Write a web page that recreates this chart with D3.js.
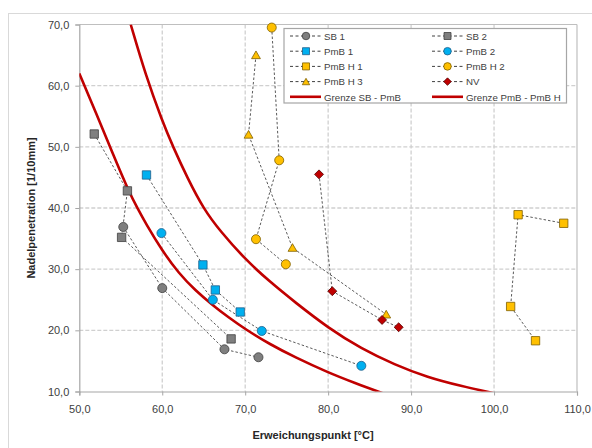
<!DOCTYPE html>
<html><head><meta charset="utf-8">
<script src="https://cdn.jsdelivr.net/npm/d3@7"></script>
<style>
body{margin:0;background:#fff;}
svg{display:block;font-family:"Liberation Sans",Arial,sans-serif;}
</style></head>
<body>
<svg id="chart" width="592" height="448"></svg>
<script>
// ---- data ----
const xTicks = [50, 60, 70, 80, 90, 100, 110];
const yTicks = [10, 20, 30, 40, 50, 60, 70];

const sb1X = [55.3, 60.0, 67.5, 71.6];   const sb1Y = [36.9, 26.9, 16.9, 15.6];
const sb2X = [51.8, 55.8, 55.1, 68.3];   const sb2Y = [52.1, 42.8, 35.2, 18.6];
const pmb1X = [58.1, 64.9, 66.4, 69.4];  const pmb1Y = [45.4, 30.7, 26.6, 23.0];
const pmb2X = [59.9, 66.1, 72.0, 84.0];  const pmb2Y = [35.9, 25.0, 19.9, 14.2];
const pmbh1X = [108.4, 102.9, 102.0, 105.0]; const pmbh1Y = [37.5, 38.9, 23.9, 18.3];
const pmbh2X = [73.2, 74.1, 71.3, 74.9]; const pmbh2Y = [69.5, 47.8, 34.9, 30.8];
const pmbh3X = [71.3, 70.4, 75.7, 87.0]; const pmbh3Y = [65.0, 52.0, 33.5, 22.6];
const nvX = [78.9, 80.5, 86.5, 88.5];    const nvY = [45.5, 26.4, 21.7, 20.5];

const grenze1X = [50, 52, 54, 56, 57, 58, 60, 62, 64, 66, 68, 70, 73, 76, 80, 83, 87];
const grenze1Y = [62, 55.6, 49.0, 42.6, 40.0, 37.5, 33.0, 29.3, 26.5, 24.2, 22.1, 20.2, 17.7, 15.6, 13.1, 11.5, 9.5];
const grenze2X = [56.2, 58, 60, 61.3, 63, 65, 67, 70, 73, 76, 80, 84, 88, 92, 96, 100];
const grenze2Y = [70, 61.7, 54.2, 50.0, 45.0, 39.8, 36.2, 31.6, 27.9, 24.6, 20.4, 17.0, 14.4, 12.3, 10.9, 9.7];

const seriesNames = ["SB 1","SB 2","PmB 1","PmB 2","PmB H 1","PmB H 2","PmB H 3","NV"];
const curveNames = ["Grenze SB - PmB","Grenze PmB - PmB H"];

// ---- styles ----
const GRAY = {fill:"#7f7f7f", stroke:"#404040"};
const BLUE = {fill:"#00b0f0", stroke:"#1f5f8a"};
const YEL  = {fill:"#ffc000", stroke:"#7f6000"};
const RED  = {fill:"#c00000", stroke:"#5a0000"};

const series = [
  {name:seriesNames[0], xs:sb1X, ys:sb1Y, shape:"circle", c:GRAY},
  {name:seriesNames[1], xs:sb2X, ys:sb2Y, shape:"square", c:GRAY},
  {name:seriesNames[2], xs:pmb1X, ys:pmb1Y, shape:"square", c:BLUE},
  {name:seriesNames[3], xs:pmb2X, ys:pmb2Y, shape:"circle", c:BLUE},
  {name:seriesNames[4], xs:pmbh1X, ys:pmbh1Y, shape:"square", c:YEL},
  {name:seriesNames[5], xs:pmbh2X, ys:pmbh2Y, shape:"circle", c:YEL},
  {name:seriesNames[6], xs:pmbh3X, ys:pmbh3Y, shape:"triangle", c:YEL},
  {name:seriesNames[7], xs:nvX, ys:nvY, shape:"diamond", c:RED}
];

const svg = d3.select("#chart");
const L = 79.3, R = 577, T = 24.5, B = 391.5;
const x = d3.scaleLinear().domain([50,110]).range([L,R]);
const y = d3.scaleLinear().domain([10,70]).range([B,T]);
const fmt = v => d3.format(".1f")(v).replace(".", ",");

// outer chart border
svg.append("rect").attr("x",8.5).attr("y",13.5).attr("width",620).attr("height",460)
  .attr("fill","none").attr("stroke","#d9d9d9").attr("stroke-width",1);

// gridlines
const grid = svg.append("g");
grid.selectAll(".vg").data(xTicks.slice(1,-1)).join("line")
  .attr("x1",d=>x(d)).attr("x2",d=>x(d)).attr("y1",T).attr("y2",B)
  .attr("stroke","#d0d0d0").attr("stroke-width",1.3).attr("stroke-dasharray","4,2");
grid.selectAll(".hg").data(yTicks.slice(1,-1)).join("line")
  .attr("x1",L).attr("x2",R).attr("y1",d=>y(d)).attr("y2",d=>y(d))
  .attr("stroke","#d0d0d0").attr("stroke-width",1.3).attr("stroke-dasharray","4,2");
// plot border top/right
svg.append("line").attr("x1",L).attr("x2",R).attr("y1",T).attr("y2",T).attr("stroke","#bfbfbf").attr("stroke-width",1.2);
svg.append("line").attr("x1",R).attr("x2",R).attr("y1",T).attr("y2",B).attr("stroke","#bfbfbf").attr("stroke-width",1.2);

// axes
const xAxis = d3.axisBottom(x).tickValues(xTicks).tickFormat(fmt).tickSize(4).tickPadding(10);
const yAxis = d3.axisLeft(y).tickValues(yTicks).tickFormat(fmt).tickSize(4).tickPadding(6);
const gx = svg.append("g").attr("transform",`translate(0,${B})`).call(xAxis);
const gy = svg.append("g").attr("transform",`translate(${L},0)`).call(yAxis);
[gx,gy].forEach(g=>{
  g.select(".domain").attr("stroke","#a6a6a6").attr("stroke-width",1.2);
  g.selectAll(".tick line").attr("stroke","#a6a6a6");
  g.selectAll("text").attr("font-size",11).attr("fill","#404040").attr("font-family","'Liberation Sans',Arial,sans-serif");
});

// axis titles
svg.append("text").attr("x",313).attr("y",439).attr("text-anchor","middle")
  .attr("font-size",11).attr("font-weight","bold").attr("fill","#262626").text("Erweichungspunkt [°C]");
svg.append("text").attr("transform","translate(35,208) rotate(-90)").attr("text-anchor","middle")
  .attr("font-size",11).attr("font-weight","bold").attr("fill","#262626").text("Nadelpenetration [1/10mm]");

// clip
svg.append("clipPath").attr("id","clip").append("rect").attr("x",L).attr("y",T).attr("width",R-L).attr("height",B-T);
const plot = svg.append("g").attr("clip-path","url(#clip)");

// boundary curves
const curveLine = d3.line().x(d=>x(d[0])).y(d=>y(d[1])).curve(d3.curveBasis);
[[grenze1X,grenze1Y],[grenze2X,grenze2Y]].forEach(([xs,ys])=>{
  plot.append("path").attr("d",curveLine(xs.map((v,i)=>[v,ys[i]])))
    .attr("fill","none").attr("stroke","#c00000").attr("stroke-width",2.6);
});

// series dashed lines
const segLine = d3.line().x(d=>x(d[0])).y(d=>y(d[1]));
series.forEach(s=>{
  plot.append("path").attr("d",segLine(s.xs.map((v,i)=>[v,s.ys[i]])))
    .attr("fill","none").attr("stroke","#595959").attr("stroke-width",1).attr("stroke-dasharray","2.5,2");
});

function marker(g, shape, c, cx, cy, scale){
  let sym, size, rot = 0;
  if(shape==="circle"){sym=d3.symbolCircle; size=64;}
  else if(shape==="square"){sym=d3.symbolSquare; size=70;}
  else if(shape==="triangle"){sym=d3.symbolTriangle; size=34;}
  else {sym=d3.symbolSquare; size=40; rot=45;}
  g.append("path").attr("d",d3.symbol().type(sym).size(size*scale)())
    .attr("transform",`translate(${cx},${cy}) rotate(${rot})`)
    .attr("fill",c.fill).attr("stroke",c.stroke).attr("stroke-width",0.8);
}
series.forEach(s=>{
  s.xs.forEach((v,i)=>marker(svg, s.shape, s.c, x(v), y(s.ys[i]) + (s.shape==="triangle"?1:0), 1));
});

// legend
const lg = svg.append("g");
lg.append("rect").attr("x",284).attr("y",28.5).attr("width",282.5).attr("height",74.5)
  .attr("fill","#fff").attr("stroke","#a6a6a6").attr("stroke-width",1.2);
const rowsY = [36, 51.2, 66.4, 81.6, 96.8];
const colX = [{l0:290,l1:321,m:306,t:324},{l0:432,l1:463,m:447.5,t:466}];
series.forEach((s,i)=>{
  const col = colX[i%2], ry = rowsY[Math.floor(i/2)];
  lg.append("line").attr("x1",col.l0).attr("x2",col.l1).attr("y1",ry).attr("y2",ry)
    .attr("stroke","#404040").attr("stroke-width",1).attr("stroke-dasharray","3,2.5");
  marker(lg, s.shape, s.c, col.m, ry+(s.shape==="triangle"?1:0), 0.7);
  lg.append("text").attr("x",col.t).attr("y",ry+3.8).attr("font-size",9.7).attr("fill","#404040").text(s.name);
});
curveNames.forEach((n,i)=>{
  const col = colX[i], ry = rowsY[4];
  lg.append("line").attr("x1",col.l0).attr("x2",col.l1).attr("y1",ry).attr("y2",ry)
    .attr("stroke","#c00000").attr("stroke-width",2.6);
  lg.append("text").attr("x",col.t).attr("y",ry+3.8).attr("font-size",9.7).attr("fill","#404040").text(n);
});
</script>
</body></html>
